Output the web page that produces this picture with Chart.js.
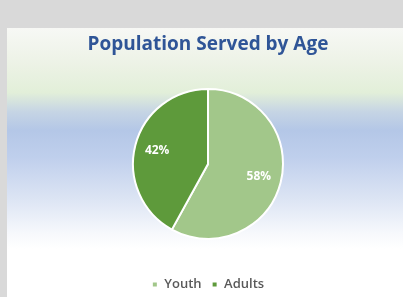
<!DOCTYPE html>
<html>
<head>
<meta charset="utf-8">
<script src="https://cdn.jsdelivr.net/npm/chart.js@4/dist/chart.umd.min.js"></script>
<style>
  html, body { margin: 0; padding: 0; }
  body { width: 403px; height: 297px; background: #d9d9d9; overflow: hidden; position: relative; }
  #box {
    position: absolute; left: 7px; top: 28px; width: 396px; height: 269px;
    background: linear-gradient(to bottom,
      #f7f8f5 0%, #ecf2e5 14%, #e2efd9 24%, #c6d5e4 31%, #b4c7e7 38%,
      #bfcfec 48%, #dde5f4 64%, #f6f8fc 76%, #ffffff 82%, #ffffff 100%);
  }
</style>
</head>
<body>
<div id="box"><canvas id="pie" width="396" height="269"></canvas></div>
<script>
var labels = ["Youth", "Adults"];
var values = [58, 42];
var colors = ["#a2c78a", "#5e9a3b"];

// draws the percentage inside each slice
var sliceLabels = {
  id: "sliceLabels",
  afterDatasetsDraw: function (chart) {
    var ctx = chart.ctx;
    var meta = chart.getDatasetMeta(0);
    var total = values.reduce(function (a, b) { return a + b; }, 0);
    ctx.save();
    ctx.fillStyle = "#ffffff";
    ctx.font = "bold 12px 'Open Sans'";
    ctx.textAlign = "center";
    ctx.textBaseline = "middle";
    meta.data.forEach(function (arc, i) {
      var mid = (arc.startAngle + arc.endAngle) / 2;
      var r = arc.outerRadius * 0.7;
      var x = arc.x + Math.cos(mid) * r;
      var y = arc.y + Math.sin(mid) * r;
      ctx.fillText(Math.round(values[i] / total * 100) + "%", x, y);
    });
    ctx.restore();
  }
};

new Chart(document.getElementById("pie"), {
  type: "pie",
  data: {
    labels: labels,
    datasets: [{
      data: values,
      backgroundColor: colors,
      borderColor: "#ffffff",
      borderWidth: 2,
      radius: 75
    }]
  },
  options: {
    responsive: false,
    animation: false,
    layout: { padding: { left: 6, top: 0, bottom: -4 } },
    plugins: {
      title: {
        display: true,
        text: "Population Served by Age",
        color: "#2f5597",
        font: { family: "'Open Sans'", size: 19, weight: "bold" },
        padding: { top: 5, bottom: 4 }
      },
      legend: {
        position: "bottom",
        labels: {
          boxWidth: 6,
          boxHeight: 6,
          color: "#595959",
          font: { family: "'Open Sans'", size: 13, weight: "600" },
          padding: 10
        }
      },
      tooltip: { enabled: false }
    }
  },
  plugins: [sliceLabels]
});
</script>
</body>
</html>
